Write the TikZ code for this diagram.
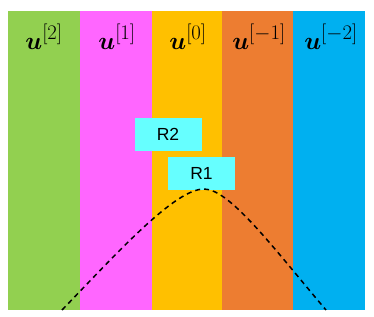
\documentclass[tikz,border=0pt]{standalone}
\usepackage{fontspec}
\usepackage{amsmath}
\usepackage{bm}
\newfontfamily\boxfont{Liberation Sans}
\definecolor{cgreen}{HTML}{92D050}
\definecolor{cmagenta}{HTML}{FF66FF}
\definecolor{cgold}{HTML}{FFC000}
\definecolor{corange}{HTML}{ED7D31}
\definecolor{cblue}{HTML}{00B0F0}
\definecolor{ccyan}{HTML}{66FFFF}
\begin{document}
\begin{tikzpicture}[x=1pt,y=-1pt,
  colbox/.style={draw=none,inner sep=0pt,minimum width=#1pt,minimum height=299pt,anchor=north west},
  ulabel/.style={anchor=base,inner sep=0pt,font=\fontsize{28}{32}\selectfont},
  rbox/.style={fill=ccyan,inner sep=0pt,minimum width=67pt,minimum height=33pt,font=\boxfont\fontsize{17.5}{20}\selectfont},
  curve/.style={line width=1.5pt,dash pattern=on 5pt off 4pt}]
\useasboundingbox (0,0) rectangle (374,316);
\node[colbox=72,fill=cgreen] (c2) at (8,11) {};
\node[colbox=72,fill=cmagenta] (c1) at (80,11) {};
\node[colbox=70,fill=cgold] (c0) at (152,11) {};
\node[colbox=71,fill=corange] (cm1) at (222,11) {};
\node[colbox=72,fill=cblue] (cm2) at (293,11) {};
\node[ulabel] (l2) at (44,49) {$\bm{u}^{[2]}$};
\node[ulabel] (l1) at (117,49) {$\bm{u}^{[1]}$};
\node[ulabel] (l0) at (188,49) {$\bm{u}^{[0]}$};
\node[ulabel] (lm1) at (259,49) {$\bm{u}^{[-1]}$};
\node[ulabel] (lm2) at (331,49) {$\bm{u}^{[-2]}$};
\node[rbox] (r2) at (168,134.5) {R2};
\node[rbox] (r1) at (201.5,173) {R1};
\coordinate (pl) at (62,310);
\coordinate (pk) at (204,189);
\coordinate (pr) at (326,310);
\draw[curve] (pl) .. controls (119,251) and (175,189) .. (pk)
  .. controls (230,189) and (275,250) .. (pr);
\end{tikzpicture}
\end{document}
